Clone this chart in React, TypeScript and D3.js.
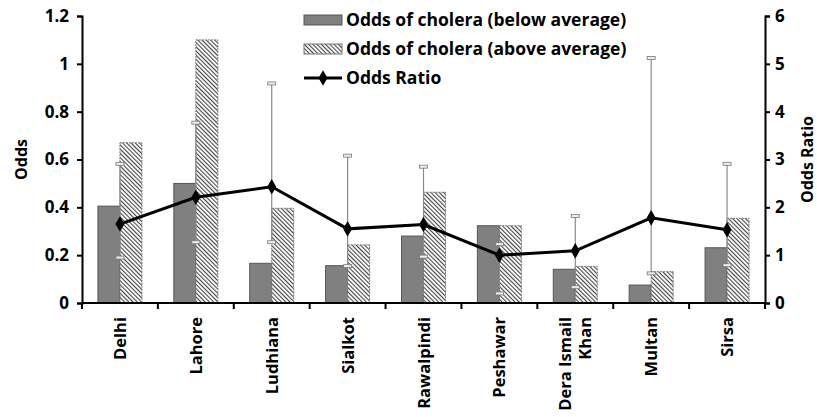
import { useEffect, useRef } from "react";
import * as d3 from "d3";

const cities = ["Delhi", "Lahore", "Ludhiana", "Sialkot", "Rawalpindi", "Peshawar", "Dera Ismail Khan", "Multan", "Sirsa"];
const oddsBelow = [0.405, 0.5, 0.166, 0.156, 0.28, 0.323, 0.141, 0.075, 0.231];
const oddsAbove = [0.67, 1.1, 0.396, 0.243, 0.463, 0.323, 0.153, 0.131, 0.354];
const oddsRatio = [1.65, 2.21, 2.43, 1.55, 1.64, 1.0, 1.09, 1.78, 1.53];
const ciLow = [0.95, 1.27, 1.27, 0.77, 0.97, 0.2, 0.33, 0.62, 0.79];
const ciHigh = [2.91, 3.77, 4.59, 3.08, 2.85, 1.23, 1.82, 5.12, 2.91];
const leftTicks = [0, 0.2, 0.4, 0.6, 0.8, 1, 1.2];
const rightTicks = [0, 1, 2, 3, 4, 5, 6];
const legendLabels = ["Odds of cholera (below average)", "Odds of cholera (above average)", "Odds Ratio"];

export default function App() {
  const ref = useRef<SVGSVGElement>(null);

  useEffect(() => {
    if (!ref.current) return;
    const svg = d3.select(ref.current);
    svg.selectAll("*").remove();

    const left = 82, right = 765, top = 16, bottom = 303;
    const font = "'Open Sans', sans-serif";

    const x = d3.scaleBand<string>().domain(cities).range([left, right]);
    const yL = d3.scaleLinear().domain([0, 1.2]).range([bottom, top]);
    const yR = d3.scaleLinear().domain([0, 6]).range([bottom, top]);
    const barW = 22;

    const defs = svg.append("defs");
    const pat = defs.append("pattern")
      .attr("id", "hatch")
      .attr("patternUnits", "userSpaceOnUse")
      .attr("width", 3)
      .attr("height", 3)
      .attr("patternTransform", "rotate(-45)");
    pat.append("rect").attr("width", 3).attr("height", 3).attr("fill", "#fff");
    pat.append("line").attr("x1", 0.5).attr("y1", 0).attr("x2", 0.5).attr("y2", 3)
      .attr("stroke", "#444").attr("stroke-width", 1.2);

    const g = svg.append("g");

    // bars
    g.selectAll("rect.below")
      .data(cities)
      .join("rect")
      .attr("class", "below")
      .attr("x", (d) => x(d)! + x.bandwidth() / 2 - barW)
      .attr("y", (d, i) => yL(oddsBelow[i]))
      .attr("width", barW)
      .attr("height", (d, i) => bottom - yL(oddsBelow[i]))
      .attr("fill", "#808080")
      .attr("stroke", "#555")
      .attr("stroke-width", 1);

    g.selectAll("rect.above")
      .data(cities)
      .join("rect")
      .attr("class", "above")
      .attr("x", (d) => x(d)! + x.bandwidth() / 2)
      .attr("y", (d, i) => yL(oddsAbove[i]))
      .attr("width", barW)
      .attr("height", (d, i) => bottom - yL(oddsAbove[i]))
      .attr("fill", "url(#hatch)")
      .attr("stroke", "#777")
      .attr("stroke-width", 1)
      .attr("stroke-dasharray", "2,1");

    // error bars
    const cx = (d: string) => x(d)! + x.bandwidth() / 2;
    g.selectAll("line.err")
      .data(cities)
      .join("line")
      .attr("class", "err")
      .attr("x1", cx).attr("x2", cx)
      .attr("y1", (d, i) => yR(ciLow[i]))
      .attr("y2", (d, i) => yR(ciHigh[i]))
      .attr("stroke", "#8a8a8a")
      .attr("stroke-width", 1.2);

    const caps = cities.flatMap((c, i) => [{ c, v: ciLow[i] }, { c, v: ciHigh[i] }]);
    g.selectAll("rect.cap")
      .data(caps)
      .join("rect")
      .attr("class", "cap")
      .attr("x", (d) => cx(d.c) - 4)
      .attr("y", (d) => yR(d.v) - 1.5)
      .attr("width", 8)
      .attr("height", 3)
      .attr("fill", "#eee")
      .attr("stroke", "#777")
      .attr("stroke-width", 0.8);

    // odds ratio line
    const line = d3.line<number>()
      .x((d, i) => cx(cities[i]))
      .y((d) => yR(d));
    g.append("path")
      .datum(oddsRatio)
      .attr("d", line)
      .attr("fill", "none")
      .attr("stroke", "#000")
      .attr("stroke-width", 3);

    const diamond = d3.symbol().type(d3.symbolDiamond).size(70);
    g.selectAll("path.pt")
      .data(oddsRatio)
      .join("path")
      .attr("class", "pt")
      .attr("transform", (d, i) => `translate(${cx(cities[i])},${yR(d)})`)
      .attr("d", diamond)
      .attr("fill", "#000");

    // axes
    const axL = svg.append("g").attr("transform", `translate(${left},0)`)
      .call(d3.axisLeft(yL).tickValues(leftTicks).tickSize(5).tickPadding(8).tickFormat((d) => String(d)));
    const axR = svg.append("g").attr("transform", `translate(${right},0)`)
      .call(d3.axisRight(yR).tickValues(rightTicks).tickSize(5).tickPadding(5).tickFormat((d) => String(d)));
    const tickPos = d3.range(cities.length + 1).map((i) => left + i * x.step());
    const axB = svg.append("g").attr("transform", `translate(0,${bottom})`);
    axB.append("line").attr("x1", left).attr("x2", right).attr("stroke", "#000").attr("stroke-width", 2);
    axB.selectAll("line.tk")
      .data(tickPos)
      .join("line")
      .attr("class", "tk")
      .attr("x1", (d) => d).attr("x2", (d) => d)
      .attr("y1", 0).attr("y2", 6)
      .attr("stroke", "#000").attr("stroke-width", 2);

    [axL, axR].forEach((a) => {
      a.select(".domain").attr("stroke", "#000").attr("stroke-width", 2);
      a.selectAll(".tick line").attr("stroke", "#000").attr("stroke-width", 2);
      a.selectAll(".tick text")
        .attr("font-family", font)
        .attr("font-size", 17)
        .attr("font-weight", "bold")
        .attr("fill", "#000");
    });

    // category labels
    const labels = axB.selectAll("text.cat")
      .data(cities)
      .join("text")
      .attr("class", "cat")
      .attr("transform", (d) => `translate(${cx(d)},14) rotate(-90)`)
      .attr("text-anchor", "end")
      .attr("font-family", font)
      .attr("font-size", 16.5)
      .attr("font-weight", "bold");
    labels.each(function (d) {
      const t = d3.select(this);
      const parts = d === "Dera Ismail Khan" ? ["Dera Ismail", "Khan"] : [d];
      const off = (parts.length - 1) * 10;
      parts.forEach((p, k) => {
        t.append("tspan")
          .attr("x", 0)
          .attr("y", -off + k * 20 + 6)
          .text(p);
      });
    });

    // axis titles
    svg.append("text")
      .attr("transform", `translate(27,${(top + bottom) / 2}) rotate(-90)`)
      .attr("text-anchor", "middle")
      .attr("font-family", font).attr("font-size", 16).attr("font-weight", "bold")
      .text("Odds");
    svg.append("text")
      .attr("transform", `translate(813,${(top + bottom) / 2}) rotate(-90)`)
      .attr("text-anchor", "middle")
      .attr("font-family", font).attr("font-size", 16).attr("font-weight", "bold")
      .text("Odds Ratio");

    // legend
    const lg = svg.append("g").attr("transform", "translate(304,20)");
    legendLabels.forEach((lab, i) => {
      const row = lg.append("g").attr("transform", `translate(0,${i * 29})`);
      if (i === 0) {
        row.append("rect").attr("x", 0).attr("y", -5).attr("width", 38).attr("height", 10)
          .attr("fill", "#808080").attr("stroke", "#555");
      } else if (i === 1) {
        row.append("rect").attr("x", 0).attr("y", -5).attr("width", 38).attr("height", 10)
          .attr("fill", "url(#hatch)").attr("stroke", "#777");
      } else {
        row.append("line").attr("x1", 0).attr("x2", 38).attr("stroke", "#000").attr("stroke-width", 3);
        row.append("path").attr("transform", "translate(19,0)").attr("d", diamond).attr("fill", "#000");
      }
      row.append("text")
        .attr("x", 42).attr("y", 6)
        .attr("font-family", font).attr("font-size", 17.5).attr("font-weight", "bold")
        .text(lab);
    });
  }, []);

  return (
    <svg
      ref={ref}
      width={817}
      height={417}
      style={{ position: "absolute", left: 0, top: 0, background: "#fff" }}
    />
  );
}
